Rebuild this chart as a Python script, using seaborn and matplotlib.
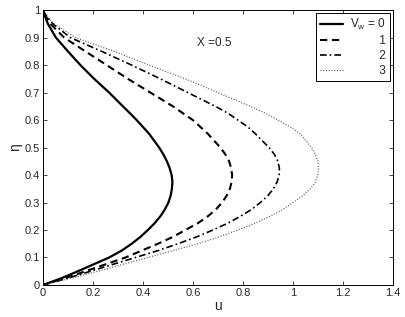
import numpy as np
import pandas as pd
import matplotlib
matplotlib.use('Agg')
import matplotlib.pyplot as plt
import seaborn as sns

# --- data ---
eta = [0, 0.025, 0.05, 0.1, 0.125, 0.15, 0.175, 0.2, 0.225, 0.25, 0.275, 0.3,
       0.325, 0.35, 0.375, 0.4, 0.425, 0.45, 0.475, 0.5, 0.55, 0.575, 0.6,
       0.625, 0.65, 0.7, 0.75, 0.8, 0.85, 0.9, 0.95, 0.98, 1]
u_vw0 = [0, 0.075, 0.14, 0.265, 0.315, 0.355, 0.39, 0.42, 0.447, 0.47, 0.488, 0.502,
         0.511, 0.516, 0.518, 0.515, 0.507, 0.496, 0.482, 0.465, 0.425, 0.40, 0.375,
         0.348, 0.32, 0.265, 0.205, 0.15, 0.1, 0.052, 0.02, 0.007, 0]
u_vw1 = [0, 0.09, 0.17, 0.33, 0.395, 0.46, 0.52, 0.57, 0.62, 0.66, 0.692, 0.717,
         0.735, 0.748, 0.755, 0.757, 0.753, 0.745, 0.73, 0.71, 0.66, 0.63, 0.6,
         0.56, 0.52, 0.43, 0.34, 0.255, 0.17, 0.085, 0.03, 0.01, 0]
u_vw2 = [0, 0.1, 0.19, 0.37, 0.46, 0.54, 0.615, 0.68, 0.74, 0.79, 0.835, 0.87,
         0.9, 0.922, 0.937, 0.945, 0.946, 0.94, 0.926, 0.905, 0.85, 0.82, 0.78,
         0.74, 0.69, 0.58, 0.47, 0.355, 0.235, 0.11, 0.04, 0.013, 0]
u_vw3 = [0, 0.115, 0.22, 0.42, 0.52, 0.62, 0.705, 0.78, 0.85, 0.91, 0.96, 1.0,
         1.04, 1.07, 1.09, 1.1, 1.103, 1.1, 1.09, 1.075, 1.03, 0.99, 0.94,
         0.89, 0.83, 0.70, 0.57, 0.425, 0.285, 0.13, 0.045, 0.015, 0]
# legend labels, the numbers padded so they line up on the right like the original
series_labels = [r'$\mathregular{V_w}$ = 0', '         1', '         2', '         3']

x_ticks = [0, 0.2, 0.4, 0.6, 0.8, 1.0, 1.2, 1.4]
x_tick_labels = ['0', '0.2', '0.4', '0.6', '0.8', '1', '1.2', '1.4']
y_ticks = [0, 0.1, 0.2, 0.3, 0.4, 0.5, 0.6, 0.7, 0.8, 0.9, 1.0]
y_tick_labels = ['0', '0.1', '0.2', '0.3', '0.4', '0.5', '0.6', '0.7', '0.8', '0.9', '1']

sns.set_style('ticks')
plt.rcParams['font.family'] = ['Liberation Sans', 'DejaVu Sans']

fig = plt.figure(figsize=(4.05, 3.17), dpi=100)
ax = fig.add_axes([0.106, 0.101, 0.864, 0.867])

# line styles (solid, dashed, dash-dot, dotted)
styles = [
    dict(linestyle='-', linewidth=1.6, color='black'),
    dict(linestyle=(0, (3.5, 2.2)), linewidth=1.5, color='black'),
    dict(linestyle=(0, (4, 1.8, 1, 1.8)), linewidth=1.2, color='black'),
    dict(linestyle=(0, (0.8, 1.4)), linewidth=0.9, color='0.35'),
]

for u, lab, st in zip([u_vw0, u_vw1, u_vw2, u_vw3], series_labels, styles):
    df = pd.DataFrame({'u': u, 'eta': eta})
    sns.lineplot(data=df, x='u', y='eta', sort=False, estimator=None,
                 ax=ax, label=lab, **st)

ax.set_xlim(0, 1.4)
ax.set_ylim(0, 1)
ax.set_xticks(x_ticks)
ax.set_xticklabels(x_tick_labels)
ax.set_yticks(y_ticks)
ax.set_yticklabels(y_tick_labels)
ax.tick_params(direction='in', top=True, right=True, length=3, width=0.6,
               labelsize=8, pad=2)
for sp in ax.spines.values():
    sp.set_visible(True)
    sp.set_linewidth(0.7)
    sp.set_color('black')

ax.set_xlabel('u', fontsize=10, labelpad=1)
ax.set_ylabel('η', fontsize=10, labelpad=2)

ax.text(0.615, 0.88, 'X =0.5', fontsize=8.5, va='center', ha='left')

leg = ax.legend(loc='upper right', fontsize=8.5, frameon=True, fancybox=False,
                framealpha=1, edgecolor='black', borderaxespad=0.25,
                handlelength=1.9, handletextpad=0.6, labelspacing=0.25,
                borderpad=0.35)
leg.get_frame().set_linewidth(0.7)

fig.savefig('out.png', dpi=100)
